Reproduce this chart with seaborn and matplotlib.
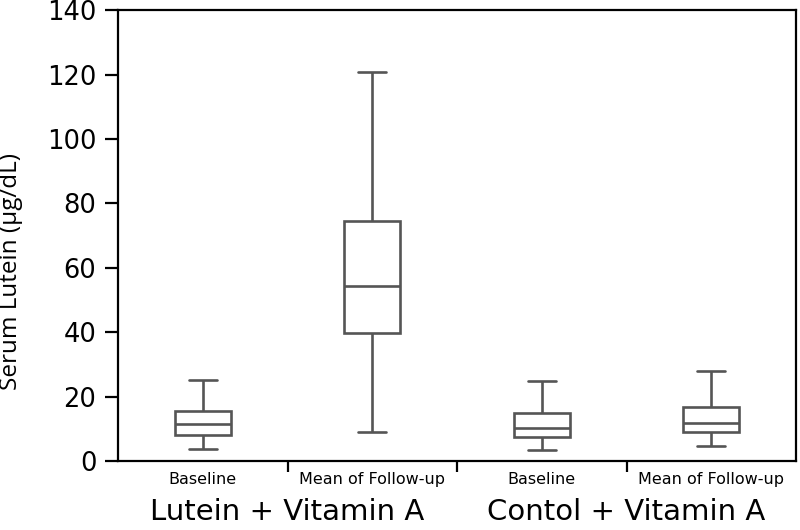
import pandas as pd
import matplotlib.pyplot as plt
import seaborn as sns

# five-number summaries: min, Q1, median, Q3, max
groups = ["Lutein + Vitamin A", "Lutein + Vitamin A", "Contol + Vitamin A", "Contol + Vitamin A"]
timepoints = ["Baseline", "Mean of Follow-up", "Baseline", "Mean of Follow-up"]
box_mins = [3.7, 9.1, 3.4, 4.7]
box_q1 = [8.0, 39.8, 7.5, 9.1]
box_medians = [11.4, 54.5, 10.3, 11.9]
box_q3 = [15.5, 74.6, 14.8, 16.7]
box_maxs = [25.2, 120.7, 24.8, 28.0]

# five points per box -> seaborn's percentiles land exactly on the summary
rows = []
for i, (g, t) in enumerate(zip(groups, timepoints)):
    key = f"{g}|{t}"
    for v in (box_mins[i], box_q1[i], box_medians[i], box_q3[i], box_maxs[i]):
        rows.append({"box": key, "value": v})
df = pd.DataFrame(rows)
order = [f"{g}|{t}" for g, t in zip(groups, timepoints)]

sns.set_style("white")
plt.rcParams["font.family"] = ["DejaVu Sans"]

fig = plt.figure(figsize=(8, 5.3), dpi=100)
ax = fig.add_axes([0.1475, 0.130, 0.8475, 0.851])

line = dict(color="#555555", linewidth=1.9)
sns.boxplot(
    data=df, x="box", y="value", order=order,
    whis=(0, 100), width=0.33, showfliers=False,
    boxprops=dict(facecolor="white", edgecolor="#555555", linewidth=1.9),
    whiskerprops=line, capprops=line, medianprops=line,
    ax=ax,
)

ax.set_ylim(0, 140)
ax.set_xlim(-0.5, 3.5)
ax.set_yticks(range(0, 141, 20))
ax.tick_params(axis="y", direction="out", length=9.5, width=1.6, pad=6,
               labelsize=18.5, left=True, colors="black")
ax.tick_params(axis="x", length=0, labelsize=11.5, pad=8, labelcolor="black")
ax.set_xticks(range(4))
ax.set_xticklabels(timepoints)

# boundary ticks between categories
ax.set_xticks([0.5, 1.5, 2.5], minor=True)
ax.tick_params(axis="x", which="minor", direction="out", length=8, width=1.6,
               bottom=True, color="black")

for s in ax.spines.values():
    s.set_visible(True)
    s.set_color("black")
    s.set_linewidth(1.6)

ax.set_xlabel("")
ax.set_ylabel("Serum Lutein (\u00b5g/dL)", fontsize=17.5, color="black",
              family=["Open Sans", "DejaVu Sans"])
ax.yaxis.set_label_coords(-0.14, 0.42)

# group labels below tick labels
trans = ax.get_xaxis_transform()
for xpos, name in [(0.5, groups[0]), (2.5, groups[2])]:
    ax.text(xpos, -0.131, name, transform=trans, ha="center", va="baseline",
            fontsize=21, color="black")

fig.savefig("out.png", dpi=100, facecolor="white")
